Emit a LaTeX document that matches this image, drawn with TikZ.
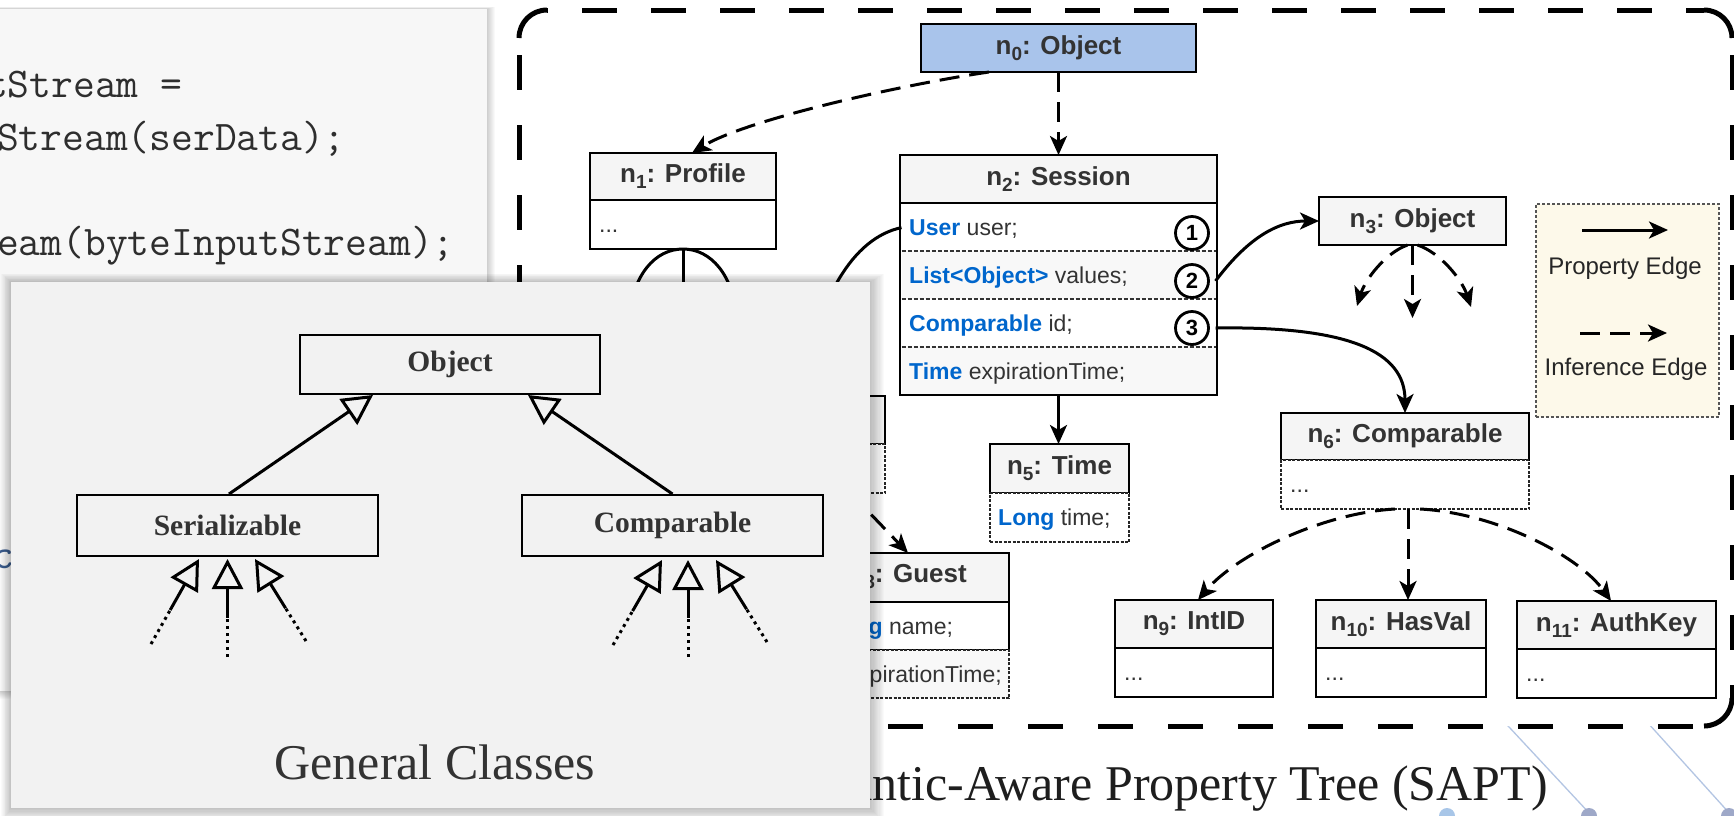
\documentclass[tikz,border=0pt]{standalone}
\usepackage{fontspec}
\newfontfamily\sansf{Liberation Sans}
\newfontfamily\seriff{Liberation Serif}
\usetikzlibrary{arrows.meta,calc}

\definecolor{hdrgray}{HTML}{F5F5F5}
\definecolor{txtgray}{HTML}{333333}
\definecolor{kwblue}{HTML}{0066CC}
\definecolor{objblue}{HTML}{A9C4EB}
\definecolor{rowgray}{HTML}{F8F8F8}
\definecolor{legfill}{HTML}{FDF9EA}
\definecolor{legborder}{HTML}{555555}
\definecolor{panelgray}{HTML}{F2F2F2}
\definecolor{codegray}{HTML}{F7F7F7}
\definecolor{codetext}{HTML}{2E2E2E}
\definecolor{codeblue}{HTML}{3B5B8C}
\definecolor{decoline}{HTML}{B3C5E3}
\definecolor{decodot}{HTML}{9EA8C8}
\definecolor{decodotb}{HTML}{A8C6E8}
\definecolor{captext}{HTML}{1E1E1E}

\newcommand{\hfnt}{\sansf\bfseries\fontsize{26}{30}\selectfont}
\newcommand{\rfnt}{\sansf\fontsize{23}{27}\selectfont}
\newcommand{\kw}[1]{\textcolor{kwblue}{\bfseries #1}}
\newcommand{\sbs}[1]{\raisebox{-6pt}{\fontsize{19}{19}\selectfont #1}}

\begin{document}
\begin{tikzpicture}[x=1pt,y=-1pt,
  hdrbox/.style={draw=black, line width=2.4pt, fill=hdrgray, inner sep=0pt, outer sep=0pt, font=\hfnt, text=txtgray},
  bodyb/.style={draw=black, line width=2.4pt, fill=white, inner sep=0pt, outer sep=0pt},
  bodyd/.style={draw=black!85, line width=2pt, dash pattern=on 3pt off 1.5pt, fill=white, inner sep=0pt, outer sep=0pt},
  rowf/.style={draw=none, inner sep=0pt, outer sep=0pt},
  rtext/.style={font=\rfnt, text=txtgray, inner sep=0pt, anchor=base west},
  divl/.style={draw=black!80, line width=1.2pt, dash pattern=on 4pt off 2pt},
  propedge/.style={draw=black, line width=3pt, -{Stealth[length=19pt,width=17pt,inset=5pt]}},
  infedge/.style={draw=black, line width=3pt, dash pattern=on 20pt off 10pt, -{Stealth[length=19pt,width=17pt,inset=5pt]}},
  numc/.style={circle, draw=black, line width=2.8pt, fill=white, minimum size=33pt, inner sep=0pt, font=\sansf\bfseries\fontsize{22}{22}\selectfont},
  gbox/.style={draw=black, line width=2pt, fill=panelgray, minimum width=300pt, minimum height=59pt, inner sep=0pt, font=\seriff\bfseries\fontsize{29.5}{32}\selectfont, text=txtgray},
  genarr/.style={draw=black, line width=3pt, -{Triangle[open,length=30pt,width=31pt]}},
  dotl/.style={draw=black, line width=3pt, dash pattern=on 3pt off 4pt},
  codetxt/.style={font=\ttfamily\fontsize{42.3}{48}\selectfont, text=codetext, inner sep=0pt, anchor=base west},
  captxt/.style={font=\seriff\fontsize{50}{56}\selectfont, text=captext, inner sep=0pt},
  legtext/.style={font=\sansf\fontsize{24}{28}\selectfont, text=black!85, inner sep=0pt, anchor=base},
  framel/.style={line width=5pt, draw=black},
]
\useasboundingbox (0,0) rectangle (1734,815);
\fill[white] (0,0) rectangle (1734,815);

% ---------- code panel (back) ----------
\foreach \i in {1,...,8}{
  \fill[black, opacity=0.025] (-5,{9-0.3*\i}) rectangle ({487+\i},{691+\i});
}
\fill[codegray] (-5,9) rectangle (487,691);
\node[codetxt] (cl1) at (-14,97) {tStream =};
\node[codetxt] (cl2) at (-3,150) {Stream(serData);};
\node[codetxt] (cl3) at (-3,255) {eam(byteInputStream);};
\node[codetxt, text=codeblue] (cl4) at (-8,568) {c};

% ---------- decorative slide lines ----------
\draw[decoline, line width=1.3pt] (1428,640) -- (1591,815);
\draw[decoline, line width=1.3pt] (1573,640) -- (1731,815);
\fill[decodotb] (1447,816) circle[radius=8pt];
\fill[decodot] (1589,816) circle[radius=8pt];
\fill[decodot] (1729,816) circle[radius=8pt];

% ---------- SAPT frame ----------
\fill[white, rounded corners=28pt] (519,10) rectangle (1732,726);
\draw[framel, dash pattern=on 35pt off 34pt, dash phase=34pt] (547,10) -- (1704,10);
\draw[framel, dash pattern=on 35pt off 35pt, dash phase=53pt] (519,38) -- (519,698);
\draw[framel, dash pattern=on 35pt off 35pt, dash phase=53pt] (1732,38) -- (1732,698);
\draw[framel, dash pattern=on 35pt off 35pt, dash phase=59pt] (1704,726) -- (547,726);
\draw[framel] (519,38) .. controls (519,22.5) and (531.5,10) .. (547,10);
\draw[framel] (1704,10) .. controls (1719.5,10) and (1732,22.5) .. (1732,38);
\draw[framel] (1732,698) .. controls (1732,713.5) and (1719.5,726) .. (1704,726);
\draw[framel] (547,726) .. controls (531.5,726) and (519,713.5) .. (519,698);

% ---------- SAPT nodes ----------
\node[hdrbox, fill=objblue, minimum width=275pt, minimum height=48pt, anchor=north west] (n0) at (921,24) {n\sbs{0}: Object};

\node[hdrbox, minimum width=186pt, minimum height=47pt, anchor=north west] (n1) at (590,153) {n\sbs{1}: Profile};
\node[bodyb, minimum width=186pt, minimum height=49pt, anchor=north] (n1b) at (n1.south) {};
\node[rtext] (n1d) at (599,232) {...};

\node[hdrbox, minimum width=317pt, minimum height=48pt, anchor=north west] (n2) at (900,155) {n\sbs{2}: Session};
\node[bodyb, minimum width=317pt, minimum height=192pt, anchor=north] (n2b) at (n2.south) {};
\node[rowf, fill=white, minimum width=314pt, minimum height=46.8pt, anchor=north] (r1) at (1058.5,204.2) {};
\node[rowf, fill=rowgray, minimum width=314pt, minimum height=48pt, anchor=north] (r2) at (1058.5,251) {};
\node[rowf, fill=white, minimum width=314pt, minimum height=48pt, anchor=north] (r3) at (1058.5,299) {};
\node[rowf, fill=rowgray, minimum width=314pt, minimum height=46.8pt, anchor=north] (r4) at (1058.5,347) {};
\draw[divl] (r1.south west) -- (r1.south east);
\draw[divl] (r2.south west) -- (r2.south east);
\draw[divl] (r3.south west) -- (r3.south east);
\node[rtext] (r1t) at (909,235) {\kw{User} user;};
\node[rtext] (r2t) at (909,283) {\kw{List<Object>} values;};
\node[rtext] (r3t) at (909,331) {\kw{Comparable} id;};
\node[rtext] (r4t) at (909,379) {\kw{Time} expirationTime;};
\node[numc] (c1) at (1192,233) {1};
\node[numc] (c2) at (1192,281) {2};
\node[numc] (c3) at (1192,328) {3};

\node[hdrbox, minimum width=187pt, minimum height=48pt, anchor=north west] (n3) at (1319,197) {n\sbs{3}: Object};

\node[hdrbox, minimum width=185pt, minimum height=48pt, anchor=north west] (n4) at (700,396) {};
\node[bodyd, minimum width=185pt, minimum height=49pt, anchor=north] (n4b) at (n4.south) {};

\node[hdrbox, minimum width=139pt, minimum height=49pt, anchor=north west] (n5) at (990,444) {n\sbs{5}: Time};
\node[bodyd, minimum width=139pt, minimum height=49pt, anchor=north] (n5b) at (n5.south) {};
\node[rtext] (n5r) at (998,525) {\kw{Long} time;};

\node[hdrbox, minimum width=248pt, minimum height=47pt, anchor=north west] (n6) at (1281,413) {n\sbs{6}: Comparable};
\node[bodyd, minimum width=248pt, minimum height=49pt, anchor=north] (n6b) at (n6.south) {};
\node[rtext] (n6d) at (1290,492) {...};

\node[hdrbox, minimum width=219pt, minimum height=49pt, anchor=north west] (n8) at (790,553) {};
\node[inner sep=0pt, font=\hfnt, text=txtgray, anchor=base east] (n8t) at (967,582) {n\sbs{8}: Guest};
\node[bodyb, minimum width=219pt, minimum height=48pt, anchor=north] (s1) at (n8.south) {};
\node[bodyd, fill=rowgray, minimum width=219pt, minimum height=48pt, anchor=north] (s2) at (s1.south) {};
\node[rtext] (s1t) at (816,634) {\kw{String} name;};
\node[rtext, anchor=base east] (s2t) at (1002,682) {\kw{Time} expirationTime;};

\node[hdrbox, minimum width=158pt, minimum height=48pt, anchor=north west] (n9) at (1115,600) {n\sbs{9}: IntID};
\node[bodyb, minimum width=158pt, minimum height=49pt, anchor=north] (n9b) at (n9.south) {};
\node[rtext] (n9d) at (1124,680) {...};

\node[hdrbox, minimum width=170pt, minimum height=48pt, anchor=north west] (n10) at (1316,600) {n\sbs{10}: HasVal};
\node[bodyb, minimum width=170pt, minimum height=49pt, anchor=north] (n10b) at (n10.south) {};
\node[rtext] (n10d) at (1325,680) {...};

\node[hdrbox, minimum width=199pt, minimum height=48pt, anchor=north west] (n11) at (1517,601) {n\sbs{11}: AuthKey};
\node[bodyb, minimum width=199pt, minimum height=49pt, anchor=north] (n11b) at (n11.south) {};
\node[rtext] (n11d) at (1526,681) {...};

% legend
\node[draw=legborder, line width=1.5pt, dash pattern=on 3pt off 2pt, fill=legfill, minimum width=183pt, minimum height=213pt, anchor=north west, inner sep=0pt] (lg) at (1535,203) {};
\coordinate (lpa) at (1582,230);
\coordinate (lpb) at (1668,230);
\draw[propedge] (lpa) -- (lpb);
\node[legtext] (lpt) at (1625,274) {Property Edge};
\coordinate (lia) at (1580,333);
\coordinate (lib) at (1667,333);
\draw[infedge] (lia) -- (lib);
\node[legtext] (lit) at (1626,375) {Inference Edge};

% ---------- SAPT edges ----------
\draw[infedge] ($(n0.south)+(-69.5,0)$) .. controls (900,85) and (745,120) .. ($(n1.north)+(9,0)$);
\draw[infedge] (n0.south) -- (n2.north);

\coordinate (k1) at (628,330);
\coordinate (k2) at (683,330);
\coordinate (k3) at (738,330);
\draw[propedge] (n1b.south) .. controls (655,249) and (633,275) .. (k1);
\draw[propedge] (n1b.south) -- (k2);
\draw[propedge] (n1b.south) .. controls (711,249) and (733,275) .. (k3);

\draw[propedge] (r1.west) .. controls (852,238) and (818,300) .. ($(n4.north)+(10,0)$);
\draw[propedge] (n2b.south) -- (n2b.south |- n5.north);
\draw[propedge] (r2.east |- c2) .. controls (1250,235) and (1280,221) .. (n3.west);
\draw[propedge] (r3.east |- c3) .. controls (1350,326) and (1405,352) .. (n6.north);

\coordinate (m1) at (1357,306);
\coordinate (m2) at (1412.5,318);
\coordinate (m3) at (1471,307);
\draw[infedge] ($(n3.south)+(-5,0)$) .. controls (1385,253) and (1365,280) .. (m1);
\draw[infedge] (n3.south) -- (m2);
\draw[infedge] ($(n3.south)+(5,0)$) .. controls (1441,253) and (1462,280) .. (m3);

\draw[infedge] ($(n4b.south)+(58,0)$) -- ($(n8.north west)+(118,0)$);

\draw[infedge] ($(n6b.south)+(-10,0)$) .. controls (1322,513) and (1236,555) .. ($(n9.north)+(4,0)$);
\draw[infedge] ($(n6b.south)+(3,0)$) -- ($(n10.north)+(7,0)$);
\draw[infedge] ($(n6b.south)+(15,0)$) .. controls (1495,513) and (1578,555) .. ($(n11.north)+(-5.5,0)$);

\node[captxt, anchor=base east] (capt) at (1548,800) {Semantic-Aware Property Tree (SAPT)};

% ---------- General Classes panel (front) ----------
\foreach \i in {1,...,12}{
  \fill[black, opacity=0.02] ({11-0.8*\i},{282-0.7*\i}) rectangle ({870+1.2*\i},{808+1.2*\i});
}
\node[fill=panelgray, draw=none, inner sep=0pt, outer sep=0pt, minimum width=859pt, minimum height=526pt, anchor=north west] (gp) at (11,282) {};

\node[gbox] (gobj) at (450,364.5) {Object};
\node[gbox, minimum width=301pt, minimum height=61pt] (gser) at (227.5,525.5) {Serializable};
\node[gbox, minimum width=301pt, minimum height=61pt] (gcmp) at (672.5,525.5) {Comparable};

\draw[genarr] ($(gser.north)+(1.5,0)$) -- ($(gobj.south)+(-77,0)$);
\draw[genarr] (gcmp.north) -- ($(gobj.south)+(78,0)$);

% sub-class arrows (Serializable)
\coordinate (sa1) at ($(gser.south)+(-28.5,2)$);
\coordinate (sa1s) at ($(sa1)+(-48,85)$);
\coordinate (sa1m) at ($(sa1)!0.6!(sa1s)$);
\coordinate (sa2) at ($(gser.south)+(0,2)$);
\coordinate (sa2s) at ($(sa2)+(0,98)$);
\coordinate (sa2m) at ($(sa2)!0.6!(sa2s)$);
\coordinate (sa3) at ($(gser.south)+(27.5,2)$);
\coordinate (sa3s) at ($(sa3)+(51,82)$);
\coordinate (sa3m) at ($(sa3)!0.6!(sa3s)$);
\draw[dotl] (sa1s) -- (sa1m);
\draw[genarr] (sa1m) -- (sa1);
\draw[dotl] (sa2s) -- (sa2m);
\draw[genarr] (sa2m) -- (sa2);
\draw[dotl] (sa3s) -- (sa3m);
\draw[genarr] (sa3m) -- (sa3);

% sub-class arrows (Comparable)
\coordinate (ca1) at ($(gcmp.south)+(-10.5,3)$);
\coordinate (ca1s) at ($(ca1)+(-49,85)$);
\coordinate (ca1m) at ($(ca1)!0.6!(ca1s)$);
\coordinate (ca2) at ($(gcmp.south)+(15.5,3)$);
\coordinate (ca2s) at ($(ca2)+(0,97)$);
\coordinate (ca2m) at ($(ca2)!0.6!(ca2s)$);
\coordinate (ca3) at ($(gcmp.south)+(43.5,3)$);
\coordinate (ca3s) at ($(ca3)+(51,82)$);
\coordinate (ca3m) at ($(ca3)!0.6!(ca3s)$);
\draw[dotl] (ca1s) -- (ca1m);
\draw[genarr] (ca1m) -- (ca1);
\draw[dotl] (ca2s) -- (ca2m);
\draw[genarr] (ca2m) -- (ca2);
\draw[dotl] (ca3s) -- (ca3m);
\draw[genarr] (ca3m) -- (ca3);

\node[captxt, text=txtgray, anchor=base] (gct) at (435,779) {General Classes};
\end{tikzpicture}
\end{document}
